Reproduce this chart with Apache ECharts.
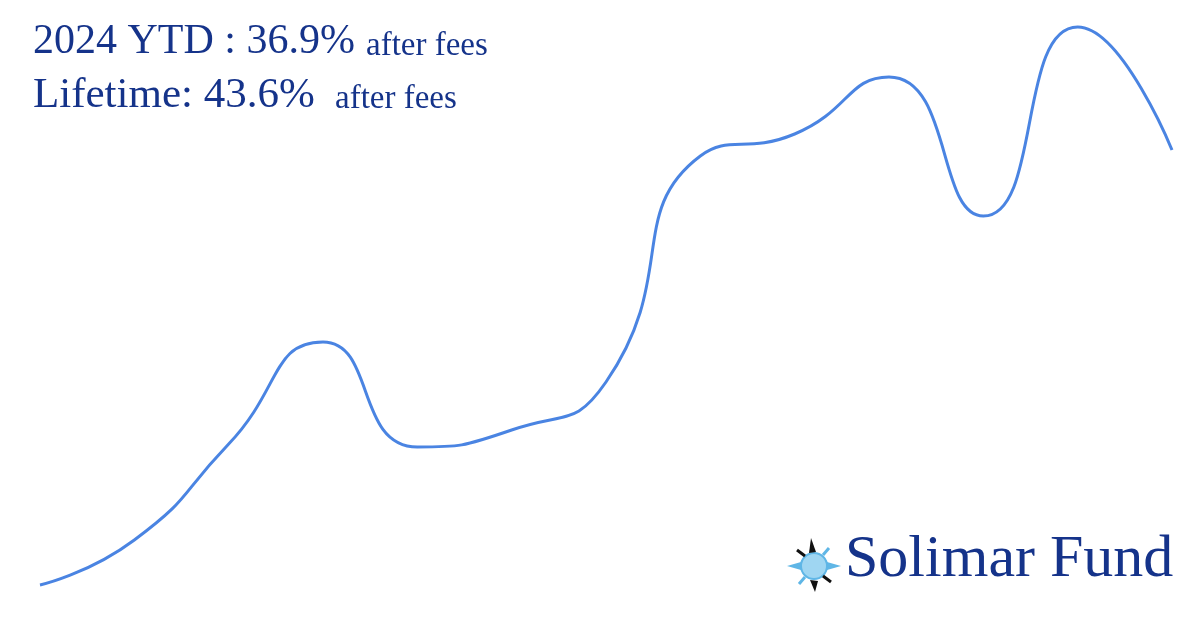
<!DOCTYPE html>
<html><head><meta charset="utf-8">
<script src="https://cdn.jsdelivr.net/npm/echarts@6/dist/echarts.min.js"></script>
<style>html,body{margin:0;padding:0;background:#fff}#c{width:1200px;height:630px}</style>
</head><body><div id="c"></div>
<script>
const categories = ['1','2','3','4','5','6','7','8','9','10','11','12','13'];
const values = [45, 90, 186, 288, 183, 200, 248, 474, 496, 553, 414, 603, 480];
const ytdLabel = '2024 YTD : 36.9%';
const lifetimeLabel = 'Lifetime: 43.6%';
const feesLabel = 'after fees';
const brand = 'Solimar Fund';

const navy = '#15338a';
const chart = echarts.init(document.getElementById('c'), null, {renderer:'canvas'});
chart.setOption({
  backgroundColor:'#ffffff',
  animation:false,
  grid:{left:40, right:28, top:0, bottom:0},
  xAxis:{type:'category', data:categories, boundaryGap:false, show:false},
  yAxis:{type:'value', min:0, max:630, show:false},
  series:[{type:'line', data:values, smooth:0.55, symbol:'none',
    lineStyle:{color:'#4a84e2', width:3}}],
  graphic:[
    {type:'text', left:33, top:21, style:{text:ytdLabel, fontFamily:'Liberation Serif', fontSize:42, fill:navy}},
    {type:'text', left:366, top:30, style:{text:feesLabel, fontFamily:'Liberation Serif', fontSize:33, fill:navy}},
    {type:'text', left:33, top:74, style:{text:lifetimeLabel, fontFamily:'Liberation Serif', fontSize:43, fill:navy}},
    {type:'text', left:335, top:83, style:{text:feesLabel, fontFamily:'Liberation Serif', fontSize:33, fill:navy}},
    {type:'text', left:845, top:530, style:{text:brand, fontFamily:'Liberation Serif', fontSize:60, fill:navy}},
    {type:'group', left:787, top:538, children:[
      {type:'polygon', shape:{points:[[0,28],[14,24],[14,32]]}, style:{fill:'#5fb6e6'}},
      {type:'polygon', shape:{points:[[54,28],[40,24],[40,32]]}, style:{fill:'#5fb6e6'}},
      {type:'circle', shape:{cx:27, cy:28, r:13}, style:{fill:'#9fd6f2', stroke:'#5fb6e6', lineWidth:2}},
      {type:'polygon', shape:{points:[[24,0],[29,14],[22,15]]}, style:{fill:'#111'}},
      {type:'polygon', shape:{points:[[28,54],[23,42],[31,43]]}, style:{fill:'#111'}},
      {type:'line', shape:{x1:10, y1:12, x2:18, y2:18}, style:{stroke:'#111', lineWidth:3}},
      {type:'line', shape:{x1:44, y1:44, x2:36, y2:38}, style:{stroke:'#111', lineWidth:3}},
      {type:'line', shape:{x1:42, y1:10, x2:36, y2:17}, style:{stroke:'#5fb6e6', lineWidth:3}},
      {type:'line', shape:{x1:12, y1:46, x2:18, y2:39}, style:{stroke:'#5fb6e6', lineWidth:3}}
    ]}
  ]
});
</script></body></html>
